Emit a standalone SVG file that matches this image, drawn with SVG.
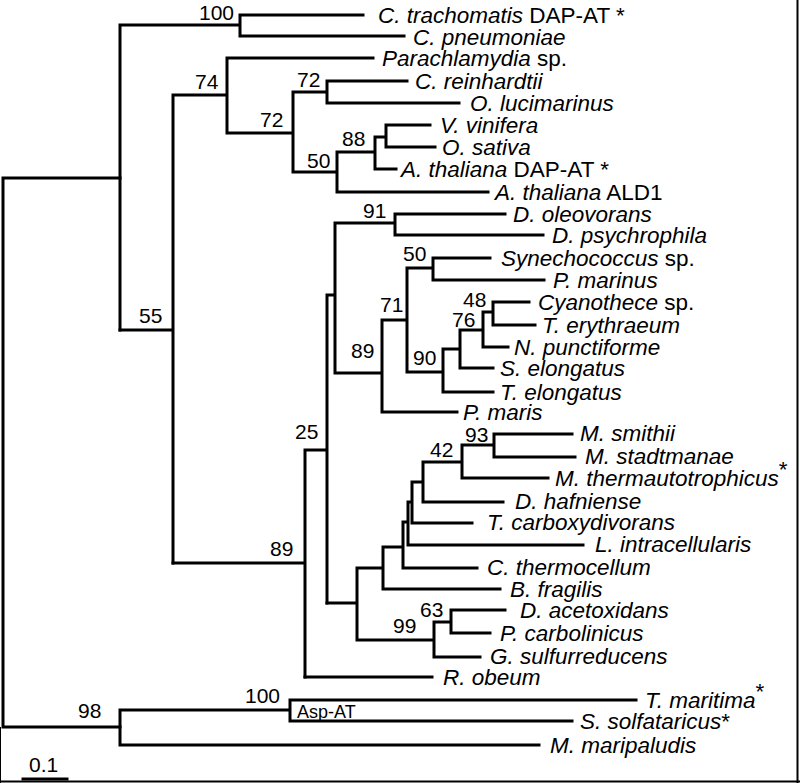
<svg xmlns="http://www.w3.org/2000/svg" width="800" height="783" viewBox="0 0 800 783">
<style>
.lf{font-family:"Liberation Sans",Arial,sans-serif;font-size:22.5px;font-style:italic;fill:#000}
.n{font-style:normal}
.bs{font-family:"Liberation Sans",Arial,sans-serif;font-size:21px;fill:#000}
.sm{font-family:"Liberation Sans",Arial,sans-serif;font-size:18px;fill:#000}
.br{fill:none;stroke:#000;stroke-width:3;stroke-linecap:square}
</style>
<rect width="800" height="783" fill="#fff"/>
<g id="frame" fill="none" stroke="#000">
<path d="M797.5,0V783" stroke-width="2"/>
<path d="M0,781.5H800" stroke-width="2"/>
<path d="M0.5,727V783" stroke-width="1"/>
</g>
<g id="connectors" class="br">
<path d="M3,178V727 M3,178H120 M3,727H120"/>
<path d="M120,25V330 M120,25H240 M240,15V36 M240,15H363 M240,36H404"/>
<path d="M120,330H173 M173,95V563 M173,95H227 M227,58V133 M227,58H373 M227,133H293 M293,92V172 M293,92H327 M327,81V103 M327,81H407 M327,103H459 M293,172H337 M337,152V192 M337,152H375 M375,137V169 M375,137H386 M386,125V147 M386,125H430 M386,147H435 M375,169H396 M337,192H488"/>
<path d="M173,563H305 M305,450V677 M305,450H327 M327,295V603 M327,295H335 M335,223V373 M335,223H395 M395,214V235 M395,214H505 M395,235H543 M335,373H382 M382,320V412 M382,320H407 M407,268V372 M407,268H433 M433,258V280 M433,258H490 M433,280H544 M407,372H443 M443,349V392 M443,349H460 M460,330V368 M460,330H483 M483,312V347 M483,312H493 M493,302V325 M493,302H529 M493,325H535 M483,347H508 M460,368H493 M443,392H493 M382,412H457"/>
<path d="M327,603H357 M357,568V640 M357,568H383 M383,547V589 M383,547H403 M403,522V568 M403,522H408 M408,502V545 M408,502H412 M412,482V523 M412,482H423 M423,462V502 M423,462H462 M462,445V478 M462,445H494 M494,434V457 M494,434H572 M494,457H575 M462,478H548 M423,502H503 M412,523H472 M408,545H583 M403,568H477 M383,589H500 M357,640H434 M434,622V657 M434,622H451 M451,610V633 M451,610H505 M451,633H490 M434,657H480 M305,677H432"/>
<path d="M120,710V745 M120,710H290 M290,700V721 M290,700H636 M290,721H572 M120,745H539"/>
<path d="M23,779H67"/>
</g>
<g id="leaves">
<g id="leaf1"><text class="lf" x="378" y="23">C. trachomatis<tspan class="n"> DAP-AT *</tspan></text></g>
<g id="leaf2"><text class="lf" x="413" y="45">C. pneumoniae</text></g>
<g id="leaf3"><text class="lf" x="382" y="66">Parachlamydia<tspan class="n"> sp.</tspan></text></g>
<g id="leaf4"><text class="lf" x="415" y="89">C. reinhardtii</text></g>
<g id="leaf5"><text class="lf" x="470" y="111">O. lucimarinus</text></g>
<g id="leaf6"><text class="lf" x="440" y="133">V. vinifera</text></g>
<g id="leaf7"><text class="lf" x="442" y="155">O. sativa</text></g>
<g id="leaf8"><text class="lf" x="401" y="177">A. thaliana<tspan class="n"> DAP-AT *</tspan></text></g>
<g id="leaf9"><text class="lf" x="495" y="200">A. thaliana<tspan class="n"> ALD1</tspan></text></g>
<g id="leaf10"><text class="lf" x="513" y="222">D. oleovorans</text></g>
<g id="leaf11"><text class="lf" x="552" y="243">D. psychrophila</text></g>
<g id="leaf12"><text class="lf" x="501" y="266">Synechococcus<tspan class="n"> sp.</tspan></text></g>
<g id="leaf13"><text class="lf" x="553" y="288">P. marinus</text></g>
<g id="leaf14"><text class="lf" x="538" y="310">Cyanothece<tspan class="n"> sp.</tspan></text></g>
<g id="leaf15"><text class="lf" x="542" y="333">T. erythraeum</text></g>
<g id="leaf16"><text class="lf" x="514" y="355">N. punctiforme</text></g>
<g id="leaf17"><text class="lf" x="500" y="376">S. elongatus</text></g>
<g id="leaf18"><text class="lf" x="500" y="400">T. elongatus</text></g>
<g id="leaf19"><text class="lf" x="463" y="420">P. maris</text></g>
<g id="leaf20"><text class="lf" x="580" y="441">M. smithii</text></g>
<g id="leaf21"><text class="lf" x="585" y="464">M. stadtmanae</text></g>
<g id="leaf22"><text class="lf" x="555" y="486">M. thermautotrophicus<tspan class="n" dy="-9">*</tspan></text></g>
<g id="leaf23"><text class="lf" x="515" y="509">D. hafniense</text></g>
<g id="leaf24"><text class="lf" x="487" y="530">T. carboxydivorans</text></g>
<g id="leaf25"><text class="lf" x="595" y="552">L. intracellularis</text></g>
<g id="leaf26"><text class="lf" x="487" y="575">C. thermocellum</text></g>
<g id="leaf27"><text class="lf" x="510" y="597">B. fragilis</text></g>
<g id="leaf28"><text class="lf" x="520" y="618">D. acetoxidans</text></g>
<g id="leaf29"><text class="lf" x="500" y="641">P. carbolinicus</text></g>
<g id="leaf30"><text class="lf" x="490" y="664">G. sulfurreducens</text></g>
<g id="leaf31"><text class="lf" x="443" y="685">R. obeum</text></g>
<g id="leaf32"><text class="lf" x="645" y="708">T. maritima<tspan class="n" dy="-9">*</tspan></text></g>
<g id="leaf33"><text class="lf" x="580" y="729">S. solfataricus<tspan class="n">*</tspan></text></g>
<g id="leaf34"><text class="lf" x="550" y="753">M. maripaludis</text></g>
</g>
<g id="support">
<text class="bs" x="199" y="20">100</text>
<text class="bs" x="195" y="89">74</text>
<text class="bs" x="297" y="87">72</text>
<text class="bs" x="260" y="127">72</text>
<text class="bs" x="342" y="146">88</text>
<text class="bs" x="307" y="168">50</text>
<text class="bs" x="139" y="323">55</text>
<text class="bs" x="363" y="218">91</text>
<text class="bs" x="403" y="261">50</text>
<text class="bs" x="380" y="312">71</text>
<text class="bs" x="463" y="307">48</text>
<text class="bs" x="452" y="327">76</text>
<text class="bs" x="413" y="365">90</text>
<text class="bs" x="351" y="358">89</text>
<text class="bs" x="295" y="439">25</text>
<text class="bs" x="465" y="442">93</text>
<text class="bs" x="430" y="457">42</text>
<text class="bs" x="270" y="556">89</text>
<text class="bs" x="420" y="617">63</text>
<text class="bs" x="393" y="633">99</text>
<text class="bs" x="245" y="703">100</text>
<text class="bs" x="78" y="718">98</text>
</g>
<g id="asp-label"><text class="sm" x="297" y="718">Asp-AT</text></g>
<g id="scale"><text class="bs" x="29" y="772">0.1</text></g>
</svg>
